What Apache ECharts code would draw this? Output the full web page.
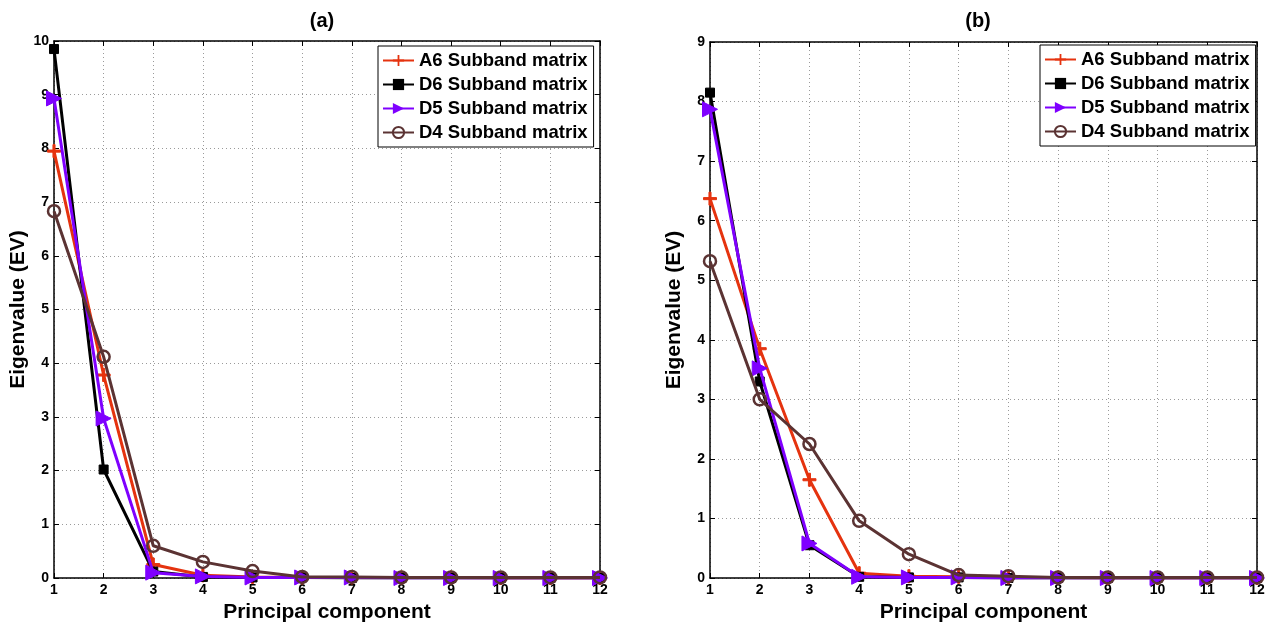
<!DOCTYPE html>
<html>
<head>
<meta charset="utf-8">
<script src="https://cdn.jsdelivr.net/npm/echarts@6/dist/echarts.min.js"></script>
<style>
html,body{margin:0;padding:0;background:#fff;}
#chart{width:1271px;height:623px;}
</style>
</head>
<body>
<div id="chart"></div>
<script>
// Principal component index (x axis)
const components = [1,2,3,4,5,6,7,8,9,10,11,12];

// Panel (a) eigenvalues
const a_A6 = [7.95, 3.78, 0.25, 0.05, 0.02, 0.01, 0.01, 0.01, 0.01, 0.0, 0.0, 0.0];
const a_D6 = [9.85, 2.02, 0.12, 0.02, 0.01, 0.01, 0.0, 0.0, 0.0, 0.0, 0.0, 0.0];
const a_D5 = [8.93, 2.97, 0.10, 0.03, 0.01, 0.01, 0.01, 0.0, 0.0, 0.0, 0.0, 0.0];
const a_D4 = [6.83, 4.12, 0.60, 0.30, 0.13, 0.02, 0.02, 0.01, 0.01, 0.01, 0.01, 0.01];

// Panel (b) eigenvalues
const b_A6 = [6.37, 3.85, 1.65, 0.08, 0.03, 0.02, 0.01, 0.01, 0.0, 0.0, 0.0, 0.0];
const b_D6 = [8.15, 3.30, 0.55, 0.02, 0.01, 0.01, 0.0, 0.0, 0.0, 0.0, 0.0, 0.0];
const b_D5 = [7.87, 3.52, 0.58, 0.02, 0.01, 0.01, 0.0, 0.0, 0.0, 0.0, 0.0, 0.0];
const b_D4 = [5.32, 3.00, 2.25, 0.96, 0.40, 0.05, 0.03, 0.01, 0.01, 0.01, 0.01, 0.01];

const seriesNames = ['A6 Subband matrix','D6 Subband matrix','D5 Subband matrix','D4 Subband matrix'];
const panelTitles = ['(a)','(b)'];
const yMax = [10, 9];

const FONT = "'Liberation Sans', Arial, Helvetica, sans-serif";
const colors = ['#e5330f','#000000','#7f00ff','#5b3333'];
const plusPath = 'path://M0,4.2 L10,4.2 L10,5.8 L0,5.8 Z M4.2,0 L5.8,0 L5.8,10 L4.2,10 Z';
const triRight = 'path://M0,0 L10,5 L0,10 Z';
const symbols = [plusPath, 'rect', triRight, 'circle'];
const symbolSizes = [13, 9, 15, 12];

const grids = [
  {left: 54, top: 41, width: 546, height: 537, containLabel: false, outerBoundsMode: 'none'},
  {left: 710, top: 42, width: 547, height: 536, containLabel: false, outerBoundsMode: 'none'}
];

const pair = arr => arr.map((v, i) => [components[i], v]);
const panels = [[a_A6, a_D6, a_D5, a_D4], [b_A6, b_D6, b_D5, b_D4]];

const xAxes = [], yAxes = [], series = [];
grids.forEach((g, p) => {
  // bottom axis with labels
  xAxes.push({
    type: 'value', gridIndex: p, min: 1, max: 12, interval: 1,
    name: 'Principal component', nameLocation: 'middle', nameGap: 22,
    nameTextStyle: {fontFamily: FONT, fontWeight: 'bold', fontSize: 21, color: '#000'},
    axisLine: {show: true, onZero: false, lineStyle: {color: '#000', width: 1.5}},
    axisTick: {show: true, inside: true, length: 5, lineStyle: {color: '#000'}},
    axisLabel: {fontFamily: FONT, fontWeight: 'bold', fontSize: 14, color: '#000', margin: 5},
    splitLine: {show: true, lineStyle: {type: [1, 3], color: '#9a9a9a', width: 1}}
  });
  // top frame
  xAxes.push({
    type: 'value', gridIndex: p, position: 'top', min: 1, max: 12, interval: 1,
    axisLine: {show: true, onZero: false, lineStyle: {color: '#000', width: 1.5}},
    axisTick: {show: true, inside: true, length: 5, lineStyle: {color: '#000'}},
    axisLabel: {show: false}, splitLine: {show: false}
  });
  yAxes.push({
    type: 'value', gridIndex: p, min: 0, max: yMax[p], interval: 1,
    name: 'Eigenvalue (EV)', nameLocation: 'middle', nameGap: 25,
    nameTextStyle: {fontFamily: FONT, fontWeight: 'bold', fontSize: 21, color: '#000'},
    axisLine: {show: true, onZero: false, lineStyle: {color: '#000', width: 1.5}},
    axisTick: {show: true, inside: true, length: 5, lineStyle: {color: '#000'}},
    axisLabel: {fontFamily: FONT, fontWeight: 'bold', fontSize: 14, color: '#000', margin: 5},
    splitLine: {show: true, lineStyle: {type: [1, 3], color: '#9a9a9a', width: 1}}
  });
  // right frame
  yAxes.push({
    type: 'value', gridIndex: p, position: 'right', min: 0, max: yMax[p], interval: 1,
    axisLine: {show: true, onZero: false, lineStyle: {color: '#000', width: 1.5}},
    axisTick: {show: true, inside: true, length: 5, lineStyle: {color: '#000'}},
    axisLabel: {show: false}, splitLine: {show: false}
  });

  panels[p].forEach((vals, s) => {
    series.push({
      type: 'line', name: seriesNames[s],
      xAxisIndex: p * 2, yAxisIndex: p * 2,
      data: pair(vals),
      symbol: symbols[s], symbolSize: symbolSizes[s],
      showAllSymbol: true,
      lineStyle: {color: colors[s], width: 3},
      itemStyle: s === 3
        ? {color: 'rgba(255,255,255,0)', borderColor: colors[s], borderWidth: 2.5}
        : {color: colors[s], borderColor: colors[s]},
      z: 2 + s, animation: false
    });
  });
});

const legendBase = {
  orient: 'vertical', data: seriesNames,
  backgroundColor: '#fff', borderColor: '#000', borderWidth: 1,
  padding: [5, 6, 5, 4], itemGap: 5, itemWidth: 31, itemHeight: 14,
  textStyle: {fontFamily: FONT, fontWeight: 'bold', fontSize: 18.5, color: '#000'},
  selectedMode: false
};

const chart = echarts.init(document.getElementById('chart'), null, {renderer: 'canvas'});
chart.setOption({
  animation: false,
  backgroundColor: '#fff',
  title: [
    {text: panelTitles[0], left: 317, top: 6, textAlign: 'center',
     textStyle: {fontFamily: FONT, fontWeight: 'bold', fontSize: 20, color: '#000'}},
    {text: panelTitles[1], left: 973, top: 6, textAlign: 'center',
     textStyle: {fontFamily: FONT, fontWeight: 'bold', fontSize: 20, color: '#000'}}
  ],
  legend: [
    Object.assign({}, legendBase, {left: 378, top: 46}),
    Object.assign({}, legendBase, {left: 1040, top: 45})
  ],
  grid: grids,
  xAxis: xAxes,
  yAxis: yAxes,
  series: series
});
</script>
</body>
</html>
